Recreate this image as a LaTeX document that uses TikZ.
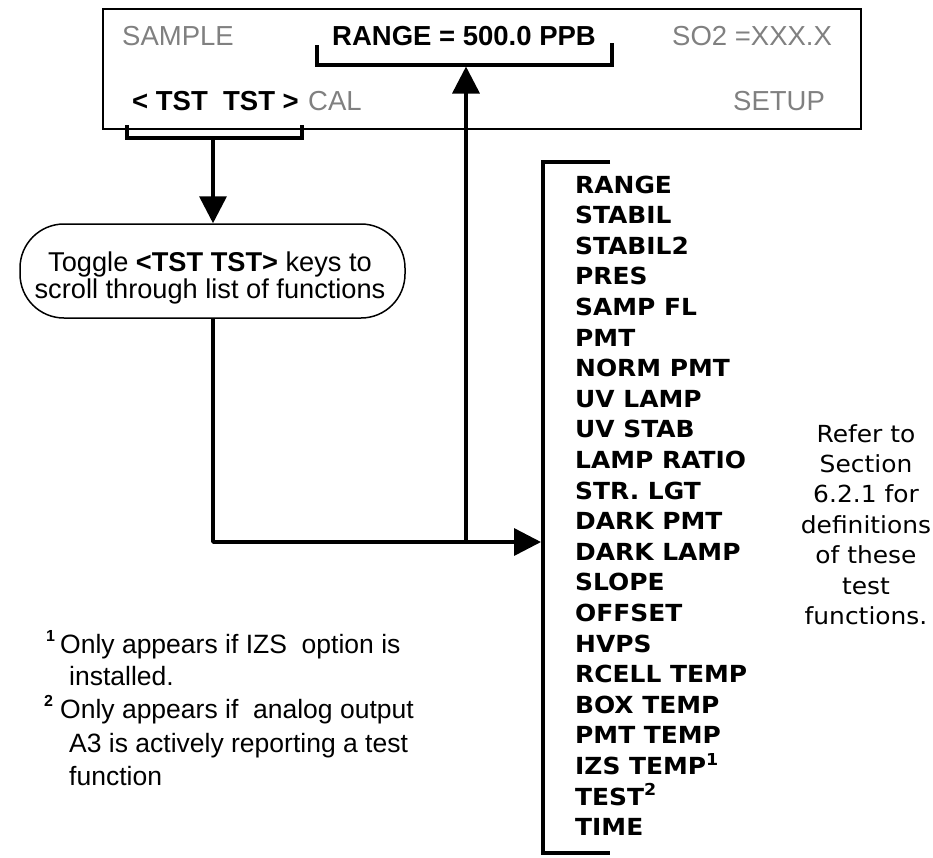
\documentclass[tikz,border=0pt]{standalone}
\usepackage{fontspec}
\setmainfont{Liberation Sans}
\newfontfamily\listfont[FakeStretch=1.06]{DejaVu Sans}
\usetikzlibrary{arrows.meta}
\definecolor{dgray}{HTML}{808080}
\tikzset{
  txt/.style={anchor=base west, inner sep=0pt, font=\fontsize{27.5}{33}\selectfont},
  gtxt/.style={txt, text=dgray},
  btxt/.style={txt, font=\fontsize{27.5}{33}\selectfont\bfseries},
  item/.style={anchor=base west, inner sep=0pt, font=\listfont\fontsize{23.5}{28}\selectfont\bfseries},
  notetxt/.style={anchor=base, inner sep=0pt, font=\listfont\fontsize{23.5}{28}\selectfont},
  brk/.style={line width=3.2pt},
  arr/.style={line width=3.5pt, -{Triangle[length=27pt,width=27pt]}},
  fn/.style={txt, font=\fontsize{26.5}{30}\selectfont},
  fnsup/.style={anchor=base west, inner sep=0pt, font=\fontsize{16}{18}\selectfont\bfseries}
}
\begin{document}
\begin{tikzpicture}[x=1pt,y=-1pt]
\useasboundingbox (0,0) rectangle (933,857);
% display
\node[draw, line width=2pt, minimum width=758pt, minimum height=120pt, inner sep=0pt, anchor=north west] (disp) at (102,8) {};
\node[gtxt] (sample) at (122,45) {SAMPLE};
\node[btxt] (range) at (332,45) {RANGE = 500.0 PPB};
\node[gtxt] (so2) at (672,45) {SO2 =XXX.X};
\node[btxt] (tst) at (132,110) {< TST\ \ TST >};
\node[gtxt] (cal) at (308,110) {CAL};
\node[gtxt] (setup) at (733,110) {SETUP};
% brackets
\coordinate (rb1) at (317,45);
\coordinate (rb2) at (612,43);
\draw[brk] (rb1) -- (317,65) -- (612,65) -- (rb2);
\coordinate (tb1) at (127,125);
\coordinate (tb2) at (302,125);
\draw[brk] (tb1) -- (127,138) -- (302,138) -- (tb2);
\coordinate (tstb) at (213,138);
\coordinate (rangeb) at (466,66.5);
% callout
\node[draw, line width=1.5pt, rounded corners=44pt, minimum width=385pt, minimum height=94pt, inner sep=0pt] (call) at (212.5,271) {};
\node[align=center, inner sep=0pt, font=\fontsize{27.2}{27}\selectfont] (calltxt) at (210,277.5) {Toggle \textbf{<TST TST>} keys to\\scroll through list of functions};
\draw[arr] (tstb) -- (tstb |- call.north);
% connectors
\coordinate (j1) at (213,542);
\coordinate (j2) at (466,542);
\coordinate (lt) at (541,542);
\draw[arr, line join=round] (call.south -| j1) -- (j1) -- (lt);
\draw[arr] (j2) -- (rangeb);
% list bracket
\coordinate (lb1) at (610,162);
\coordinate (lb2) at (610,853);
\draw[brk] (lb1) -- (543,162) -- (543,853) -- (lb2);
\foreach \t [count=\i] in {RANGE, STABIL, STABIL2, PRES, SAMP FL, PMT, NORM PMT, UV LAMP, UV STAB, LAMP RATIO, STR. LGT, DARK PMT, DARK LAMP, SLOPE, OFFSET, HVPS, RCELL TEMP, BOX TEMP, PMT TEMP, {IZS TEMP\textsuperscript{1}}, {TEST\textsuperscript{2}}, TIME}
  \node[item] (it\i) at (575,{193+(\i-1)*30.6}) {\t};
% note
\foreach \t [count=\i] in {Refer to, Section, 6.2.1 for, definitions, of these, test, functions.}
  \node[notetxt] (nt\i) at (866,{442+(\i-1)*30.4}) {\t};
% footnotes
\node[fnsup] (s1) at (46,641) {1};
\node[fn] (f1) at (60,653) {Only appears if IZS\ \ option is};
\node[fn] (f2) at (69,685) {installed.};
\node[fnsup] (s2) at (44,706) {2};
\node[fn] (f3) at (60,718) {Only appears if\ \ analog output};
\node[fn] (f4) at (69,752) {A3 is actively reporting a test};
\node[fn] (f5) at (69,785) {function};
\end{tikzpicture}
\end{document}
